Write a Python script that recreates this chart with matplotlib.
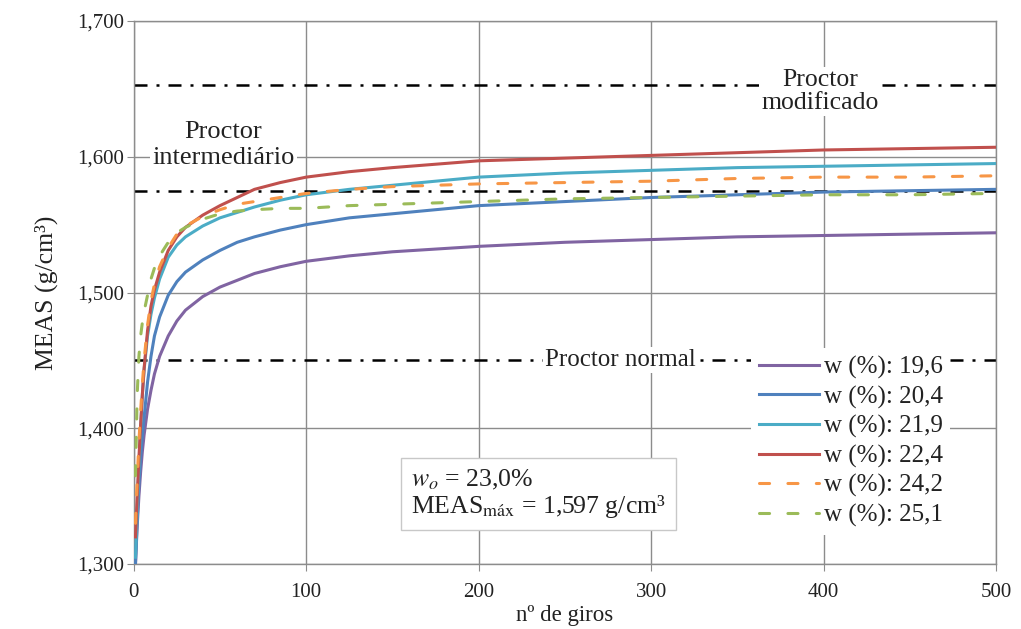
import matplotlib
matplotlib.use("Agg")
import matplotlib.pyplot as plt
from matplotlib.ticker import FuncFormatter, MultipleLocator

# Number of gyrations at which the density was read
giros = [1, 2, 3, 4, 5, 6, 8, 10, 12, 15, 20, 25, 30, 40, 50, 60, 70, 85,
         100, 125, 150, 200, 250, 300, 350, 400, 450, 500]

# Dry apparent specific mass (g/cm3) for each moisture content
meas_196 = [1.300, 1.328, 1.350, 1.368, 1.383, 1.395, 1.414, 1.428, 1.440, 1.453,
            1.468, 1.479, 1.487, 1.497, 1.504, 1.509, 1.514, 1.519,
            1.523, 1.527, 1.530, 1.534, 1.537, 1.539, 1.541, 1.542, 1.543, 1.544]
meas_204 = [1.300, 1.333, 1.358, 1.378, 1.395, 1.408, 1.434, 1.453, 1.468, 1.482,
            1.498, 1.508, 1.515, 1.524, 1.531, 1.537, 1.541, 1.546,
            1.550, 1.555, 1.558, 1.564, 1.567, 1.570, 1.572, 1.574, 1.575, 1.576]
meas_219 = [1.305, 1.340, 1.372, 1.400, 1.425, 1.443, 1.468, 1.484, 1.496, 1.510,
            1.526, 1.535, 1.541, 1.549, 1.555, 1.559, 1.563, 1.568,
            1.572, 1.576, 1.579, 1.585, 1.588, 1.590, 1.592, 1.593, 1.594, 1.595]
meas_224 = [1.320, 1.350, 1.378, 1.403, 1.425, 1.444, 1.472, 1.490, 1.502, 1.515,
            1.531, 1.541, 1.548, 1.557, 1.564, 1.570, 1.576, 1.581,
            1.585, 1.589, 1.592, 1.597, 1.599, 1.601, 1.603, 1.605, 1.606, 1.607]
meas_242 = [1.330, 1.362, 1.390, 1.413, 1.433, 1.450, 1.476, 1.494, 1.506, 1.519,
            1.533, 1.543, 1.549, 1.556, 1.561, 1.565, 1.567, 1.570,
            1.573, 1.576, 1.578, 1.580, 1.581, 1.582, 1.584, 1.585, 1.585, 1.586]
meas_251 = [1.365, 1.425, 1.453, 1.468, 1.478, 1.486, 1.498, 1.510, 1.518, 1.527,
            1.537, 1.544, 1.548, 1.554, 1.558, 1.560, 1.561, 1.562,
            1.562, 1.564, 1.565, 1.567, 1.569, 1.570, 1.571, 1.572, 1.572, 1.573]

series_labels = ["w (%): 19,6", "w (%): 20,4", "w (%): 21,9",
                 "w (%): 22,4", "w (%): 24,2", "w (%): 25,1"]

# Proctor reference densities (g/cm3)
proctor_normal = 1.450
proctor_intermediario = 1.575
proctor_modificado = 1.653

colors = ["#8064A2", "#4F81BD", "#4BACC6", "#C0504D", "#F79646", "#9BBB59"]
dashed = [False, False, False, False, True, True]

plt.rcParams["font.family"] = ["Liberation Serif", "DejaVu Serif"]
plt.rcParams["mathtext.fontset"] = "stix"

fig = plt.figure(figsize=(10.21, 6.29), dpi=100)
ax = fig.add_axes([0.131, 0.1033, 0.8445, 0.8633])

ax.set_xlim(0, 500)
ax.set_ylim(1.300, 1.700)
ax.xaxis.set_major_locator(MultipleLocator(100))
ax.yaxis.set_major_locator(MultipleLocator(0.100))
ax.yaxis.set_major_formatter(FuncFormatter(lambda v, p: f"{v:.3f}".replace(".", ",")))
ax.grid(True, color="#8c8c8c", lw=1.0)
ax.set_axisbelow(True)
for s in ax.spines.values():
    s.set_color("#8c8c8c")
    s.set_linewidth(1.0)
ax.tick_params(axis="both", direction="out", length=5, color="#8c8c8c",
               labelsize=15, labelcolor="#222222")
ax.tick_params(axis="y", pad=2)
ax.tick_params(axis="x", pad=9)

# Proctor reference lines
dashdot = (0, (5.2, 3.6, 1.2, 3.6))
for yv in (proctor_normal, proctor_intermediario, proctor_modificado):
    ax.axhline(yv, color="black", lw=1.8, ls=dashdot, zorder=2)

all_series = [meas_196, meas_204, meas_219, meas_224, meas_242, meas_251]
handles = []
for vals, col, dsh, lab in zip(all_series, colors, dashed, series_labels):
    if dsh:
        h, = ax.plot(giros, vals, color=col, lw=2.2, ls=(0, (3.3, 6.0)),
                     dash_capstyle="round", label=lab, zorder=3)
    else:
        h, = ax.plot(giros, vals, color=col, lw=2.2, ls="-", label=lab, zorder=3)
    handles.append(h)

tbox = dict(facecolor="white", edgecolor="none", pad=1.5)
ax.text(52, 1.6085, "Proctor\nintermediário", ha="center", va="center",
        fontsize=19, color="#222222", linespacing=1.25, bbox=tbox, zorder=4)
ax.text(398, 1.648, "Proctor\nmodificado", ha="center", va="center",
        fontsize=18.5, color="#222222", linespacing=1.08, bbox=tbox, zorder=4)
ax.text(282, 1.4505, "Proctor normal", ha="center", va="center",
        fontsize=18, color="#222222", bbox=tbox, zorder=4)

ax.text(161, 1.352, "$w_o$ = 23,0%\nMEAS$_{\\mathrm{máx}}$ = 1,597 g/cm³",
        ha="left", va="center", fontsize=18.5, color="#222222", linespacing=1.05,
        bbox=dict(facecolor="white", edgecolor="#c8c8c8", lw=1.0,
                  boxstyle="square,pad=0.4"), zorder=4)

leg = ax.legend(handles=handles, loc="upper left", bbox_to_anchor=(0.716, 0.397),
                frameon=True, fontsize=18, handlelength=2.4, handletextpad=0.2,
                labelspacing=0.26, borderpad=0.3, borderaxespad=0)
leg.get_frame().set_facecolor("white")
leg.get_frame().set_edgecolor("none")
leg.get_frame().set_alpha(1.0)
leg.set_zorder(5)
for t in leg.get_texts():
    t.set_color("#222222")

ax.set_xlabel("nº de giros", fontsize=16.5, color="#222222", labelpad=2)
ax.set_ylabel("MEAS (g/cm³)", fontsize=18.5, color="#222222", labelpad=14)

fig.savefig("out.png", dpi=100, facecolor="white")
